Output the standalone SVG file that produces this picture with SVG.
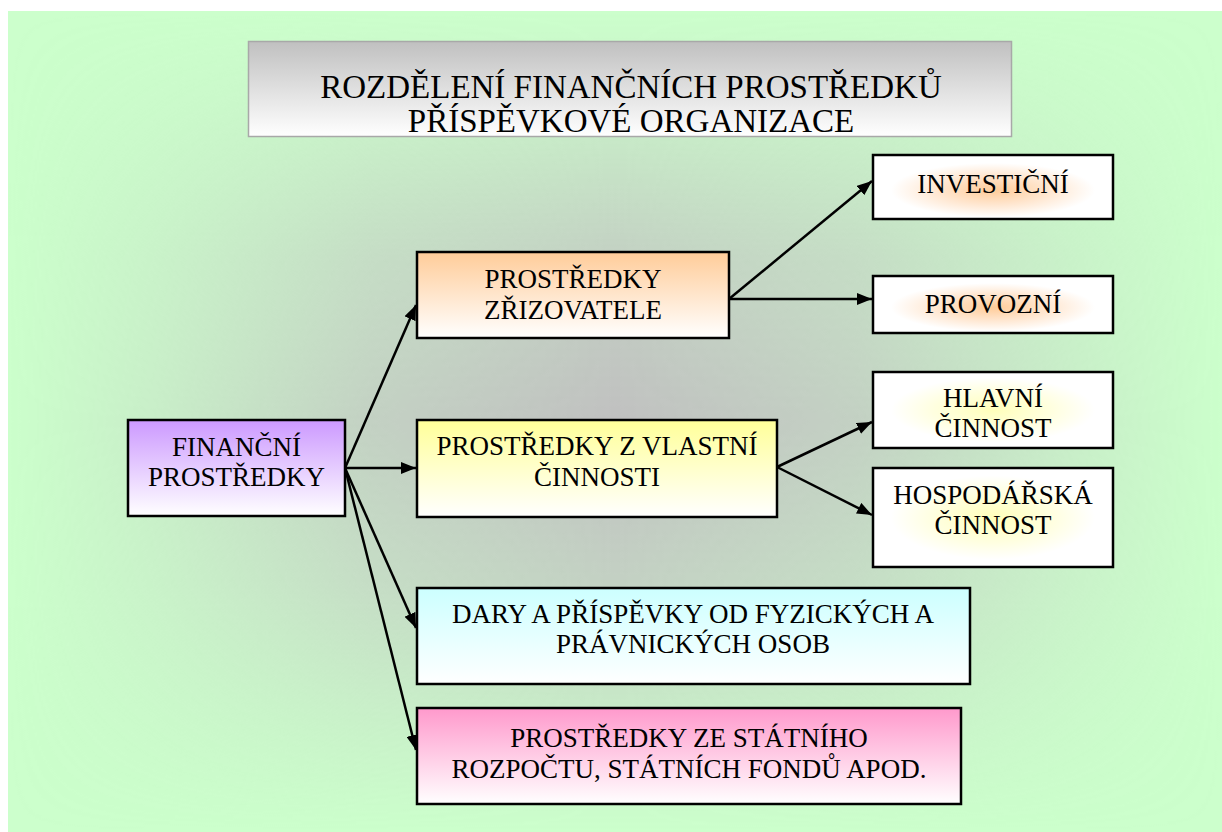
<svg xmlns="http://www.w3.org/2000/svg" width="1222" height="832" viewBox="0 0 1222 832">
  <style>
    .box { stroke: #000; stroke-width: 2.5; }
    .lbl { font-family: "Liberation Serif", "Times New Roman", serif; font-size: 27px; fill: #000; text-anchor: middle; }
    .ttl { font-family: "Liberation Serif", "Times New Roman", serif; font-size: 33px; fill: #000; text-anchor: middle; }
    .con { stroke: #000; stroke-width: 2.5; fill: none; marker-end: url(#arrow); }
  </style>
  <defs>
    <marker id="arrow" viewBox="0 0 15 12" refX="15" refY="6" markerWidth="15" markerHeight="12" markerUnits="userSpaceOnUse" orient="auto">
      <path d="M0,0 L15,6 L0,12 z" fill="#000"/>
    </marker>
    <!-- background: rectangular fade from grey centre to green -->
    <linearGradient id="hx" gradientUnits="userSpaceOnUse" x1="8" y1="0" x2="1222" y2="0">
      <stop offset="0" stop-color="#000"/>
      <stop offset="0.12" stop-color="#444"/>
      <stop offset="0.3" stop-color="#bbb"/>
      <stop offset="0.5" stop-color="#fff"/>
      <stop offset="0.7" stop-color="#bbb"/>
      <stop offset="0.88" stop-color="#444"/>
      <stop offset="1" stop-color="#000"/>
    </linearGradient>
    <linearGradient id="hy" gradientUnits="userSpaceOnUse" x1="0" y1="11" x2="0" y2="832">
      <stop offset="0" stop-color="#000"/>
      <stop offset="0.12" stop-color="#444"/>
      <stop offset="0.3" stop-color="#bbb"/>
      <stop offset="0.5" stop-color="#fff"/>
      <stop offset="0.7" stop-color="#bbb"/>
      <stop offset="0.88" stop-color="#444"/>
      <stop offset="1" stop-color="#000"/>
    </linearGradient>
    <mask id="mx" maskUnits="userSpaceOnUse" x="0" y="0" width="1222" height="832">
      <rect x="0" y="0" width="1222" height="832" fill="url(#hx)"/>
    </mask>
    <mask id="my" maskUnits="userSpaceOnUse" x="0" y="0" width="1222" height="832">
      <rect x="0" y="0" width="1222" height="832" fill="url(#hy)"/>
    </mask>
    <!-- node fills -->
    <linearGradient id="gTitle" x1="0" y1="0" x2="0" y2="1">
      <stop offset="0" stop-color="#C0C0C0"/>
      <stop offset="1" stop-color="#FFFFFF"/>
    </linearGradient>
    <linearGradient id="gPurple" x1="0" y1="0" x2="0" y2="1">
      <stop offset="0" stop-color="#CC99FF"/>
      <stop offset="1" stop-color="#FFFFFF"/>
    </linearGradient>
    <linearGradient id="gOrange" x1="0" y1="0" x2="0" y2="1">
      <stop offset="0" stop-color="#FFCC99"/>
      <stop offset="1" stop-color="#FFFFFF"/>
    </linearGradient>
    <linearGradient id="gYellow" x1="0" y1="0" x2="0" y2="1">
      <stop offset="0" stop-color="#FFFF99"/>
      <stop offset="1" stop-color="#FFFFFF"/>
    </linearGradient>
    <linearGradient id="gCyan" x1="0" y1="0" x2="0" y2="1">
      <stop offset="0" stop-color="#CCFFFF"/>
      <stop offset="1" stop-color="#FFFFFF"/>
    </linearGradient>
    <linearGradient id="gPink" x1="0" y1="0" x2="0" y2="1">
      <stop offset="0" stop-color="#FF99CC"/>
      <stop offset="1" stop-color="#FFFFFF"/>
    </linearGradient>
    <radialGradient id="rOrange" cx="0.5" cy="0.55" r="0.5">
      <stop offset="0" stop-color="#FFCC99"/>
      <stop offset="0.45" stop-color="#FFE6CF"/>
      <stop offset="0.85" stop-color="#FFFFFF"/>
    </radialGradient>
    <radialGradient id="rYellow" cx="0.5" cy="0.5" r="0.5">
      <stop offset="0" stop-color="#FFFFBB"/>
      <stop offset="0.5" stop-color="#FFFFE0"/>
      <stop offset="0.85" stop-color="#FFFFFF"/>
    </radialGradient>
  </defs>

  <!-- page background -->
  <rect x="0" y="0" width="1222" height="832" fill="#FFFFFF"/>
  <rect x="8" y="11" width="1214" height="821" fill="#CCFFCC"/>
  <g mask="url(#mx)">
    <rect x="8" y="11" width="1214" height="821" fill="#C0C0C0" mask="url(#my)"/>
  </g>

  <g id="title">
    <rect x="248.5" y="41.5" width="763" height="95" fill="url(#gTitle)" stroke="#A8A8A8" stroke-width="1.5"/>
    <text class="ttl" x="631" y="98">ROZDĚLENÍ FINANČNÍCH PROSTŘEDKŮ</text>
    <text class="ttl" x="631" y="132">PŘÍSPĚVKOVÉ ORGANIZACE</text>
  </g>

  <g id="connectors">
    <line class="con" x1="345" y1="468" x2="416" y2="305"/>
    <line class="con" x1="345" y1="468" x2="416" y2="468"/>
    <line class="con" x1="345" y1="468" x2="416" y2="628"/>
    <line class="con" x1="345" y1="468" x2="416" y2="750"/>
    <line class="con" x1="729" y1="299" x2="872" y2="181"/>
    <line class="con" x1="729" y1="299" x2="872" y2="299"/>
    <line class="con" x1="777" y1="467" x2="872" y2="422"/>
    <line class="con" x1="777" y1="467" x2="872" y2="515"/>
  </g>

  <g id="financni-prostredky">
    <rect class="box" x="128" y="420" width="217" height="96" fill="url(#gPurple)"/>
    <text class="lbl" x="236.5" y="456">FINANČNÍ</text>
    <text class="lbl" x="236.5" y="486">PROSTŘEDKY</text>
  </g>

  <g id="zrizovatel">
    <rect class="box" x="417" y="252" width="312" height="86" fill="url(#gOrange)"/>
    <text class="lbl" x="573" y="288">PROSTŘEDKY</text>
    <text class="lbl" x="573" y="319">ZŘIZOVATELE</text>
  </g>

  <g id="vlastni-cinnost">
    <rect class="box" x="417" y="420" width="360" height="97" fill="url(#gYellow)"/>
    <text class="lbl" x="597" y="455">PROSTŘEDKY Z VLASTNÍ</text>
    <text class="lbl" x="597" y="486">ČINNOSTI</text>
  </g>

  <g id="dary">
    <rect class="box" x="417" y="588" width="553" height="96" fill="url(#gCyan)"/>
    <text class="lbl" x="693" y="623">DARY A PŘÍSPĚVKY OD FYZICKÝCH A</text>
    <text class="lbl" x="693" y="653">PRÁVNICKÝCH OSOB</text>
  </g>

  <g id="statni-rozpocet">
    <rect class="box" x="417" y="708" width="544" height="96" fill="url(#gPink)"/>
    <text class="lbl" x="689" y="747">PROSTŘEDKY ZE STÁTNÍHO</text>
    <text class="lbl" x="689" y="778">ROZPOČTU, STÁTNÍCH FONDŮ APOD.</text>
  </g>

  <g id="investicni">
    <rect class="box" x="873" y="155" width="240" height="64" fill="url(#rOrange)"/>
    <text class="lbl" x="993" y="193">INVESTIČNÍ</text>
  </g>

  <g id="provozni">
    <rect class="box" x="873" y="276" width="240" height="57" fill="url(#rOrange)"/>
    <text class="lbl" x="993" y="313">PROVOZNÍ</text>
  </g>

  <g id="hlavni-cinnost">
    <rect class="box" x="873" y="372" width="240" height="76" fill="url(#rYellow)"/>
    <text class="lbl" x="993" y="407">HLAVNÍ</text>
    <text class="lbl" x="993" y="437">ČINNOST</text>
  </g>

  <g id="hospodarska-cinnost">
    <rect class="box" x="873" y="468" width="240" height="99" fill="url(#rYellow)"/>
    <text class="lbl" x="993" y="504">HOSPODÁŘSKÁ</text>
    <text class="lbl" x="993" y="534">ČINNOST</text>
  </g>
</svg>
